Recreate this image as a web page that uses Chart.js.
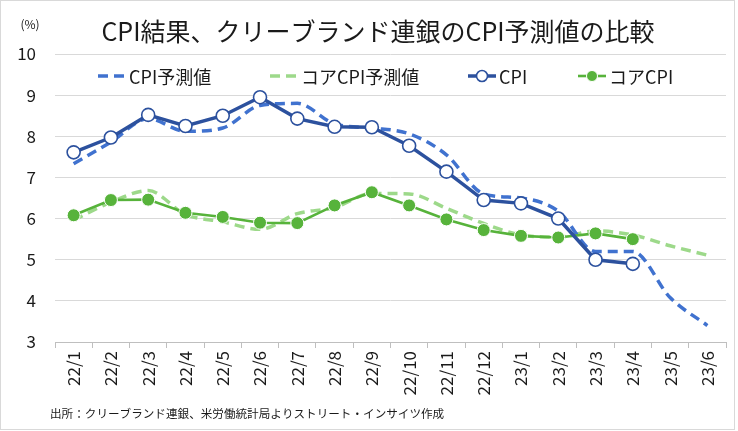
<!DOCTYPE html>
<html>
<head>
<meta charset="utf-8">
<script src="https://cdn.jsdelivr.net/npm/chart.js@4/dist/chart.umd.min.js"></script>
<style>
  html, body { margin: 0; padding: 0; background: #fff; }
  #wrap { width: 738px; height: 431px; position: relative; }
</style>
</head>
<body>
<div id="wrap"><canvas id="c" width="738" height="431"></canvas></div>
<script>
// ---- data ----
const categories = ['22/1','22/2','22/3','22/4','22/5','22/6','22/7','22/8','22/9','22/10','22/11','22/12','23/1','23/2','23/3','23/4','23/5','23/6'];
const cpiForecast  = [7.33, 7.86, 8.43, 8.12, 8.2, 8.75, 8.8, 8.3, 8.2, 8.06, 7.55, 6.6, 6.5, 6.18, 5.2, 5.2, 4.08, 3.4];
const coreForecast = [5.96, 6.4, 6.68, 6.1, 5.92, 5.74, 6.12, 6.27, 6.61, 6.6, 6.25, 5.88, 5.6, 5.55, 5.7, 5.6, 5.34, 5.11];
const cpiActual    = [7.61, 7.97, 8.52, 8.25, 8.5, 8.95, 8.43, 8.23, 8.22, 7.77, 7.14, 6.45, 6.37, 6.0, 5.0, 4.9, null, null];
const coreActual   = [6.08, 6.45, 6.46, 6.14, 6.04, 5.9, 5.89, 6.32, 6.64, 6.32, 5.98, 5.72, 5.58, 5.54, 5.64, 5.5, null, null];
const yTicks = [3, 4, 5, 6, 7, 8, 9, 10];
const seriesNames = ['CPI予測値', 'コアCPI予測値', 'CPI', 'コアCPI'];
const titleText = 'CPI結果、クリーブランド連銀のCPI予測値の比較';
const unitText = '(%)';
const sourceText = '出所：クリーブランド連銀、米労働統計局よりストリート・インサイツ作成';

const FONT = "'Noto Sans CJK JP', 'Noto Sans', sans-serif";
Chart.defaults.font.family = FONT;
Chart.defaults.color = '#1a1a1a';

const C_CPI = '#2C519E';
const C_CPIF = '#4072CF';
const C_CORE = '#57B33B';
const C_COREF = '#9DD98A';

const decor = {
  id: 'decor',
  afterDraw(chart) {
    const ctx = chart.ctx;
    ctx.save();
    // frame
    ctx.strokeStyle = '#d9d9d9';
    ctx.lineWidth = 1;
    ctx.strokeRect(0.5, 0.5, 734, 429);
    // title
    ctx.fillStyle = '#1a1a1a';
    ctx.textBaseline = 'middle';
    ctx.textAlign = 'center';
    ctx.font = '25px ' + FONT;
    ctx.fillText(titleText, 378, 31);
    // unit
    ctx.font = '12px ' + FONT;
    ctx.fillText(unitText, 30, 24);
    // source
    ctx.textAlign = 'left';
    ctx.font = '11.6px ' + FONT;
    ctx.fillText(sourceText, 50, 414);
    // legend
    const xs = [98, 270, 468, 578];
    const ly = 76;
    ctx.font = '18px ' + FONT;
    chart.data.datasets.forEach((ds, i) => {
      const x0 = xs[i];
      const len = 28;
      ctx.save();
      ctx.strokeStyle = ds.borderColor;
      ctx.lineWidth = ds.borderWidth;
      ctx.setLineDash(ds.borderDash || []);
      ctx.beginPath();
      ctx.moveTo(x0, ly);
      ctx.lineTo(x0 + len, ly);
      ctx.stroke();
      ctx.setLineDash([]);
      if (ds.pointRadius > 0) {
        ctx.beginPath();
        ctx.arc(x0 + len / 2, ly, 5.5, 0, Math.PI * 2);
        ctx.fillStyle = ds.pointBackgroundColor;
        ctx.fill();
        ctx.lineWidth = ds.pointBorderWidth;
        ctx.strokeStyle = ds.pointBorderColor;
        ctx.stroke();
      }
      ctx.restore();
      ctx.fillStyle = '#1a1a1a';
      ctx.textAlign = 'left';
      ctx.textBaseline = 'middle';
      ctx.fillText(ds.label, x0 + len + 3, ly + 1);
    });
    ctx.restore();
  }
};

new Chart(document.getElementById('c'), {
  type: 'line',
  data: {
    labels: categories,
    datasets: [
      { label: seriesNames[0], data: cpiForecast, borderColor: C_CPIF, backgroundColor: C_CPIF,
        borderWidth: 3.5, borderDash: [10, 6], cubicInterpolationMode: 'monotone', pointRadius: 0, order: 3, fill: false },
      { label: seriesNames[1], data: coreForecast, borderColor: C_COREF, backgroundColor: C_COREF,
        borderWidth: 3.5, borderDash: [10, 6], cubicInterpolationMode: 'monotone', pointRadius: 0, order: 4, fill: false },
      { label: seriesNames[2], data: cpiActual, borderColor: C_CPI, backgroundColor: C_CPI,
        borderWidth: 3.5, tension: 0, pointRadius: 6.5, pointBackgroundColor: '#ffffff',
        pointBorderColor: C_CPI, pointBorderWidth: 1.6, order: 1, fill: false },
      { label: seriesNames[3], data: coreActual, borderColor: C_CORE, backgroundColor: C_CORE,
        borderWidth: 2.6, tension: 0, pointRadius: 6.5, pointBackgroundColor: C_CORE,
        pointBorderColor: '#ffffff', pointBorderWidth: 1, order: 2, fill: false }
    ]
  },
  options: {
    responsive: false,
    animation: false,
    devicePixelRatio: 1,
    layout: { padding: { top: 54, left: 0, right: 12, bottom: 0 } },
    plugins: { legend: { display: false }, title: { display: false }, tooltip: { enabled: false } },
    scales: {
      x: {
        offset: true,
        grid: { offset: true, drawOnChartArea: false, drawTicks: true, tickLength: 6, color: '#bfbfbf' },
        border: { display: true, color: '#bfbfbf' },
        ticks: { minRotation: 90, maxRotation: 90, autoSkip: false, padding: 3,
                 font: { size: 17 }, color: '#1a1a1a' },
        afterFit(s) { s.height = 89; }
      },
      y: {
        min: 3, max: 10,
        afterBuildTicks(s) { s.ticks = yTicks.map(v => ({ value: v })); },
        grid: { color: '#d9d9d9', drawTicks: false, lineWidth: 1 },
        border: { display: false },
        ticks: { padding: 19, font: { size: 17 }, color: '#1a1a1a' },
        afterFit(s) { s.width = 55; }
      }
    }
  },
  plugins: [decor]
});
</script>
</body>
</html>
